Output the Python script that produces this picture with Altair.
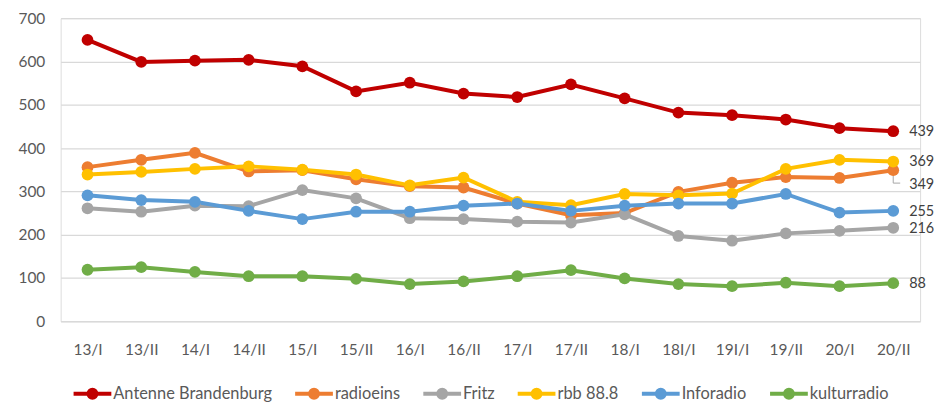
import altair as alt
import pandas as pd

periods = ["13/I", "13/II", "14/I", "14/II", "15/I", "15/II", "16/I", "16/II",
           "17/I", "17/II", "18/I", "18I/I", "19I/I", "19/II", "20/I", "20/II"]
series_names = ["Antenne Brandenburg", "radioeins", "Fritz", "rbb 88.8", "Inforadio", "kulturradio"]
colors = ["#C00000", "#ED7D31", "#A5A5A5", "#FFC000", "#5B9BD5", "#70AD47"]

antenne = [650, 599, 602, 604, 589, 531, 551, 526, 518, 547, 515, 482, 476, 466, 446, 439]
radioeins = [356, 373, 389, 346, 349, 328, 312, 309, 272, 245, 250, 299, 320, 333, 331, 349]
fritz = [261, 253, 267, 266, 303, 284, 238, 236, 230, 228, 247, 197, 186, 203, 209, 216]
rbb = [339, 345, 352, 358, 350, 339, 314, 332, 276, 268, 294, 291, 295, 352, 373, 369]
inforadio = [291, 280, 276, 255, 236, 253, 253, 267, 272, 255, 267, 272, 272, 294, 251, 255]
kultur = [119, 125, 114, 104, 104, 98, 86, 92, 104, 118, 99, 86, 81, 89, 81, 88]

values = [antenne, radioeins, fritz, rbb, inforadio, kultur]
rows = []
for s, vals in zip(series_names, values):
    for p, v in zip(periods, vals):
        rows.append({"period": p, "series": s, "value": v})
df = pd.DataFrame(rows)

sym = ("M-1,0H1"
       "M0.21,0A0.21,0.21,0,1,1,-0.21,0A0.21,0.21,0,1,1,0.21,0Z"
       "M0.08,0A0.08,0.08,0,1,1,-0.08,0A0.08,0.08,0,1,1,0.08,0Z")

x_enc = alt.X("period:N", sort=periods,
              scale=alt.Scale(type="point", padding=0.5),
              axis=alt.Axis(title=None, labelFont="Lato", labelFontSize=15.5,
                            labelColor="#595959", ticks=False, domain=False,
                            grid=False, labelPadding=21, labelAngle=0))
y_enc = alt.Y("value:Q", scale=alt.Scale(domain=[0, 700], nice=False),
              axis=alt.Axis(title=None, values=[0, 100, 200, 300, 400, 500, 600, 700],
                            labelFont="Lato", labelFontSize=15.5, labelColor="#595959",
                            ticks=False, domain=False, gridColor="#D9D9D9",
                            gridWidth=1.3, labelPadding=16))
color_enc = alt.Color("series:N",
                      scale=alt.Scale(domain=series_names, range=colors),
                      legend=alt.Legend(title=None, orient="none", legendX=11, legendY=357,
                                        direction="horizontal", symbolType=sym,
                                        symbolSize=1444, symbolStrokeWidth=4,
                                        labelFont="Lato", labelFontSize=16.5,
                                        labelColor="#595959", columnPadding=15,
                                        labelOffset=0, labelLimit=400))

base = alt.Chart(df).encode(x=x_enc, y=y_enc, color=color_enc)
lines = base.mark_line(strokeWidth=4)
points = base.mark_point(filled=True, size=140, opacity=1)

last = alt.Chart(df).transform_filter(alt.datum.period == "20/II")
labels = last.transform_filter(alt.datum.series != "radioeins").mark_text(
    align="left", baseline="middle", dx=16, dy=1, font="Lato", fontSize=14.5,
    color="#404040").encode(x=alt.X("period:N", sort=periods), y="value:Q", text="value:Q")
label_r = last.transform_filter(alt.datum.series == "radioeins").mark_text(
    align="left", baseline="middle", dx=16, dy=15, font="Lato", fontSize=14.5,
    color="#404040").encode(x=alt.X("period:N", sort=periods), y="value:Q", text="value:Q")
lead_v = last.transform_filter(alt.datum.series == "radioeins").mark_rule(
    color="#A6A6A6", strokeWidth=1, yOffset=4, y2Offset=13).encode(
    x=alt.X("period:N", sort=periods), y="value:Q", y2="value:Q")
lead_h = last.transform_filter(alt.datum.series == "radioeins").mark_rule(
    color="#A6A6A6", strokeWidth=1, yOffset=13, x2Offset=7).encode(
    x=alt.X("period:N", sort=periods), x2="period:N", y="value:Q")

chart = alt.layer(lines, lead_v, lead_h, points, labels, label_r).properties(
    width=865, height=305,
    autosize=alt.AutoSizeParams(type="none"),
    padding={"left": 53, "top": 9, "right": 14, "bottom": 86},
).configure_view(stroke=None).configure(background="white")

chart.save("out.html", embed_options={"renderer": "svg", "actions": False})
